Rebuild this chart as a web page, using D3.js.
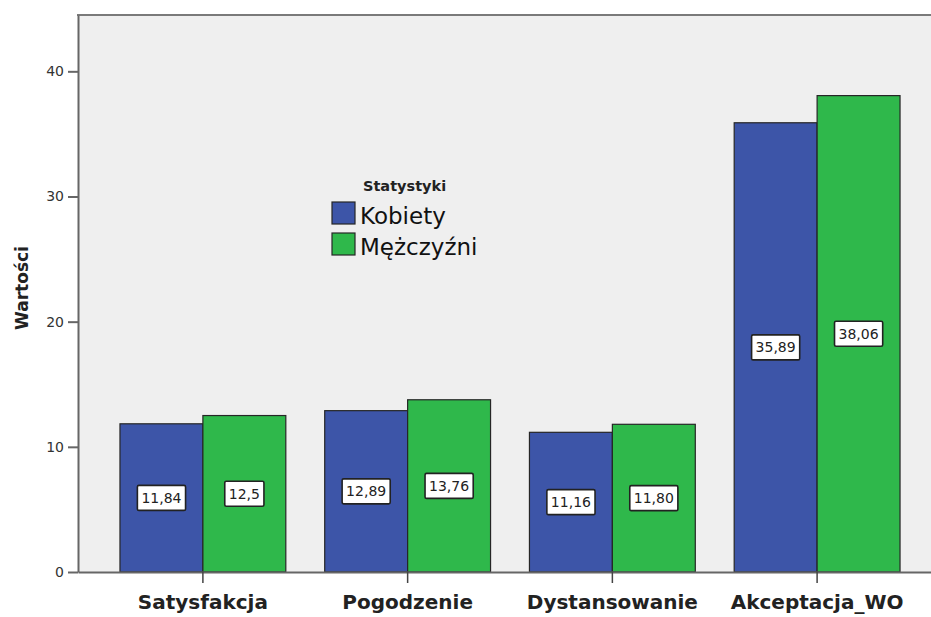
<!DOCTYPE html>
<html>
<head>
<meta charset="utf-8">
<script src="https://cdn.jsdelivr.net/npm/d3@7"></script>
<style>
  html, body { margin: 0; padding: 0; background: #fff; }
  svg { display: block; }
</style>
</head>
<body>
<svg id="chart" width="931" height="617"></svg>
<script>
// Data
const categories = ["Satysfakcja", "Pogodzenie", "Dystansowanie", "Akceptacja_WO"];
const seriesNames = ["Kobiety", "Mężczyźni"];
const kobietyLabels = ["11,84", "12,89", "11,16", "35,89"];
const mezczyzniLabels = ["12,5", "13,76", "11,80", "38,06"];
const yTicks = [0, 10, 20, 30, 40];
const legendTitle = "Statystyki";
const yTitle = "Wartości";

const colors = { "Kobiety": "#3d55a8", "Mężczyźni": "#2fb84b" };

const toNum = s => +s.replace(",", ".");
const seriesLabels = { "Kobiety": kobietyLabels, "Mężczyźni": mezczyzniLabels };

const rows = categories.map((c, i) => ({
  category: c,
  bars: seriesNames.map(s => ({ series: s, label: seriesLabels[s][i], value: toNum(seriesLabels[s][i]) }))
}));

const svg = d3.select("#chart");
const plot = { left: 78, right: 942, top: 15, bottom: 572 };

const x = d3.scaleBand()
  .domain(categories)
  .range([plot.left, plot.right])
  .paddingInner(0.19)
  .paddingOuter(0.205);

const xInner = d3.scaleBand()
  .domain(seriesNames)
  .range([0, x.bandwidth()]);

const y = d3.scaleLinear()
  .domain([0, 44.5])
  .range([plot.bottom, plot.top]);

// Plot background
svg.append("rect")
  .attr("x", plot.left).attr("y", plot.top)
  .attr("width", plot.right - plot.left).attr("height", plot.bottom - plot.top)
  .attr("fill", "#efefef");

// Top frame line
svg.append("line")
  .attr("x1", plot.left - 1).attr("x2", plot.right)
  .attr("y1", plot.top).attr("y2", plot.top)
  .attr("stroke", "#7a7a7a").attr("stroke-width", 2);

// Bars
const groups = svg.append("g").selectAll("g")
  .data(rows).join("g")
  .attr("transform", d => `translate(${x(d.category)},0)`);

groups.selectAll("rect")
  .data(d => d.bars).join("rect")
  .attr("x", d => xInner(d.series))
  .attr("y", d => y(d.value))
  .attr("width", xInner.bandwidth())
  .attr("height", d => y(0) - y(d.value))
  .attr("fill", d => colors[d.series])
  .attr("stroke", "#262626")
  .attr("stroke-width", 1.2);

// Value labels in boxes
const labels = groups.selectAll("g.lbl")
  .data(d => d.bars).join("g")
  .attr("class", "lbl")
  .attr("transform", d => `translate(${xInner(d.series) + xInner.bandwidth() / 2},${y(d.value / 2)})`);

labels.append("text")
  .attr("text-anchor", "middle")
  .attr("dy", "0.36em")
  .attr("font-family", "DejaVu Sans, sans-serif")
  .attr("font-size", 14)
  .attr("fill", "#222")
  .text(d => d.label);

labels.each(function() {
  const g = d3.select(this);
  const bb = g.select("text").node().getBBox();
  g.insert("rect", "text")
    .attr("x", bb.x - 4).attr("y", -12.5)
    .attr("width", bb.width + 8).attr("height", 25)
    .attr("fill", "#fff")
    .attr("stroke", "#222")
    .attr("stroke-width", 1.6)
    .attr("rx", 1.5);
});

// Y axis
const yAxis = svg.append("g")
  .attr("transform", `translate(${plot.left},0)`)
  .call(d3.axisLeft(y).tickValues(yTicks).tickSize(10).tickSizeOuter(0).tickPadding(4).tickFormat(d3.format("d")));
yAxis.select(".domain").attr("stroke", "#666").attr("stroke-width", 2);
yAxis.selectAll(".tick line").attr("stroke", "#666").attr("stroke-width", 2);
yAxis.selectAll(".tick text")
  .attr("font-family", "DejaVu Sans, sans-serif")
  .attr("font-size", 14)
  .attr("fill", "#333");

// X axis
const xAxis = svg.append("g")
  .attr("transform", `translate(0,${plot.bottom})`)
  .call(d3.axisBottom(x).tickSize(11).tickPadding(12).tickSizeOuter(0));
xAxis.select(".domain").attr("stroke", "#666").attr("stroke-width", 2);
xAxis.selectAll(".tick line").attr("stroke", "#444").attr("stroke-width", 1.5);
xAxis.selectAll(".tick text")
  .attr("font-family", "DejaVu Sans, sans-serif")
  .attr("font-weight", "bold")
  .attr("font-size", 20)
  .attr("fill", "#222");

// Y axis title
svg.append("text")
  .attr("transform", "translate(28,288) rotate(-90)")
  .attr("text-anchor", "middle")
  .attr("font-family", "DejaVu Sans, sans-serif")
  .attr("font-weight", "bold")
  .attr("font-size", 17)
  .attr("fill", "#222")
  .text(yTitle);

// Legend
const legend = svg.append("g").attr("transform", "translate(332,0)");
legend.append("text")
  .attr("x", 31).attr("y", 191)
  .attr("font-family", "DejaVu Sans, sans-serif")
  .attr("font-weight", "bold")
  .attr("font-size", 14.5)
  .attr("fill", "#222")
  .text(legendTitle);

const li = legend.selectAll("g.item")
  .data(seriesNames).join("g")
  .attr("class", "item")
  .attr("transform", (d, i) => `translate(0,${202 + i * 31})`);
li.append("rect")
  .attr("width", 23).attr("height", 22)
  .attr("fill", d => colors[d])
  .attr("stroke", "#262626").attr("stroke-width", 1.2);
li.append("text")
  .attr("x", 28).attr("y", 22)
  .attr("font-family", "DejaVu Sans, sans-serif")
  .attr("font-size", 23)
  .attr("fill", "#111")
  .text(d => d);
</script>
</body>
</html>
